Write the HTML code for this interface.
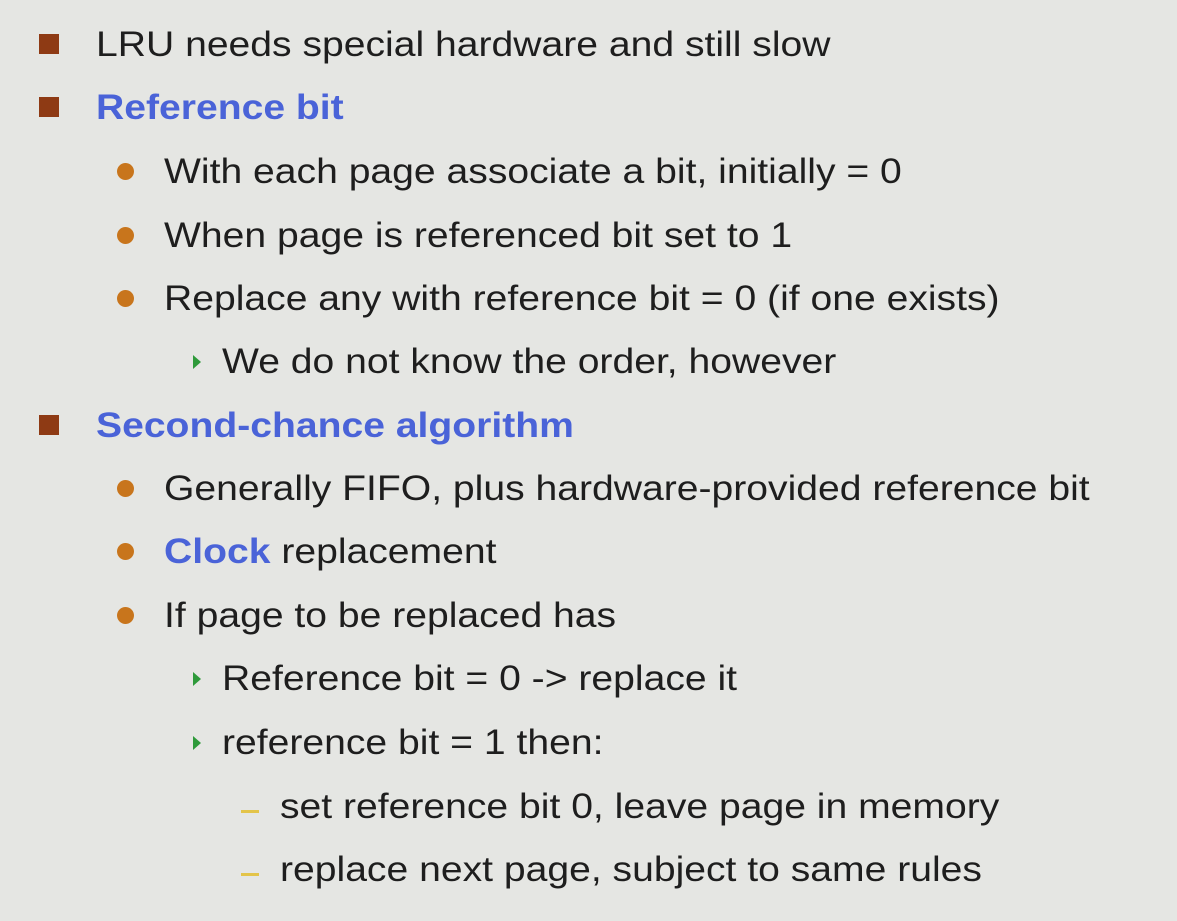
<!DOCTYPE html>
<html><head><style>
html,body{margin:0;padding:0}
body{width:1177px;height:921px;background:#e5e6e3;position:relative;overflow:hidden;font-family:"Liberation Sans",Arial,sans-serif;color:#1e1e1e}
.t{position:absolute;font-size:35px;line-height:40px;white-space:nowrap;transform:translateY(1px) scaleX(1.117);transform-origin:0 50%}
.b{color:#4a63d8;font-weight:bold}
.sq{position:absolute;width:20px;height:20px;background:#8e3a14}
.dot{position:absolute;width:17px;height:17px;border-radius:50%;background:#c8751c}
.tri{position:absolute;width:0;height:0;border-top:7px solid transparent;border-bottom:7px solid transparent;border-left:8px solid #2e9a3a}
.dash{position:absolute;width:18px;height:3px;background:#e3c449}
</style></head><body>
<div class="sq" style="left:39px;top:34px"></div><div class="t" style="left:96px;top:24px">LRU needs special hardware and still slow</div>
<div class="sq" style="left:39px;top:97px"></div><div class="t b" style="left:96px;top:87px">Reference bit</div>
<div class="dot" style="left:117px;top:163px"></div><div class="t" style="left:164px;top:151px">With each page associate a bit, initially = 0</div>
<div class="dot" style="left:117px;top:227px"></div><div class="t" style="left:164px;top:215px">When page is referenced bit set to 1</div>
<div class="dot" style="left:117px;top:290px"></div><div class="t" style="left:164px;top:278px">Replace any with reference bit = 0 (if one exists)</div>
<div class="tri" style="left:193px;top:355px"></div><div class="t" style="left:222px;top:341px">We do not know the order, however</div>
<div class="sq" style="left:39px;top:415px"></div><div class="t b" style="left:96px;top:405px">Second-chance algorithm</div>
<div class="dot" style="left:117px;top:480px"></div><div class="t" style="left:164px;top:468px">Generally FIFO, plus hardware-provided reference bit</div>
<div class="dot" style="left:117px;top:543px"></div><div class="t" style="left:164px;top:531px"><span class="b">Clock</span> replacement</div>
<div class="dot" style="left:117px;top:607px"></div><div class="t" style="left:164px;top:595px">If page to be replaced has</div>
<div class="tri" style="left:193px;top:672px"></div><div class="t" style="left:222px;top:658px">Reference bit = 0 -&gt; replace it</div>
<div class="tri" style="left:193px;top:736px"></div><div class="t" style="left:222px;top:722px">reference bit = 1 then:</div>
<div class="dash" style="left:241px;top:810px"></div><div class="t" style="left:280px;top:786px">set reference bit 0, leave page in memory</div>
<div class="dash" style="left:241px;top:873px"></div><div class="t" style="left:280px;top:849px">replace next page, subject to same rules</div>
</body></html>
